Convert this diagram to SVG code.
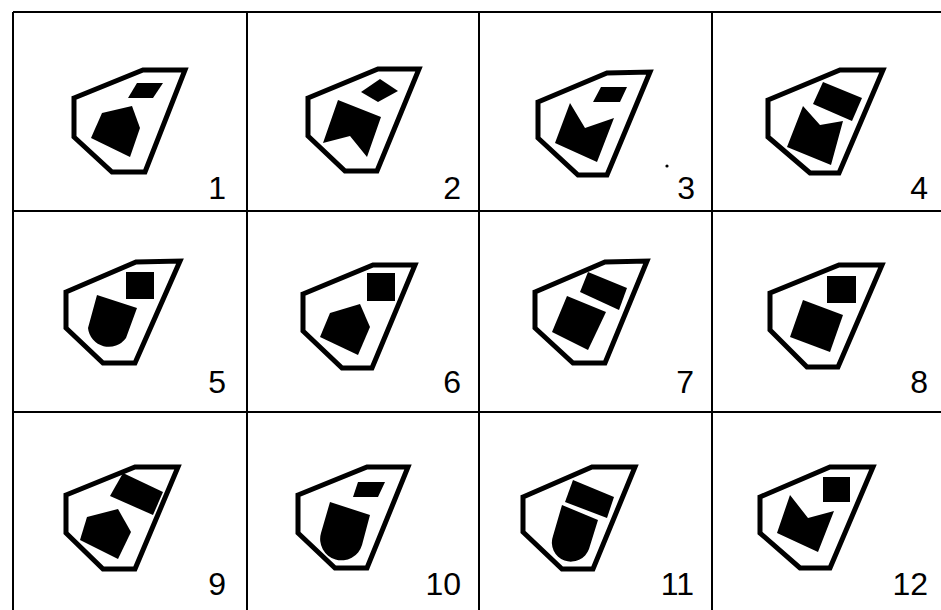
<svg xmlns="http://www.w3.org/2000/svg" width="941" height="610" viewBox="0 0 941 610">
<style>
.frame{stroke:#000;stroke-width:2;fill:none}
.hull{fill:none;stroke:#000;stroke-width:5;stroke-linejoin:miter}
.solid{fill:#000;stroke:none}
.num{font-family:"Liberation Sans",Arial,sans-serif;font-size:32px;text-anchor:end;fill:#000}
</style>
<rect width="941" height="610" fill="#fff"/>
<g id="grid" class="frame">
<line x1="13" y1="12" x2="941" y2="12"/>
<line x1="13" y1="211" x2="941" y2="211"/>
<line x1="13" y1="412" x2="941" y2="412"/>
<line x1="13" y1="12" x2="13" y2="610"/>
<line x1="247" y1="12" x2="247" y2="610"/>
<line x1="479" y1="12" x2="479" y2="610"/>
<line x1="712" y1="12" x2="712" y2="610"/>
</g>
<g id="cell1">
<polygon class="hull" points="74,98 143,70 185,70 145,172 112,172 74,137"/>
<polygon class="solid" points="128,98 137,83 163,83 153,98"/>
<polygon class="solid" points="91,138 102,113 132,106 140,128 130,157"/>
<text class="num" x="226" y="199">1</text>
</g>
<g id="cell2">
<polygon class="hull" points="308,98 378,69 419,69 377,171 345,171 308,136"/>
<polygon class="solid" points="361,92 380,79 398,91 378,102"/>
<polygon class="solid" points="338,100 381,117 367,157 350,136 323,143"/>
<text class="num" x="461" y="199">2</text>
</g>
<g id="cell3">
<polygon class="hull" points="538,102 607,73 650,72 607,175 578,175 538,138"/>
<polygon class="solid" points="593,102 601,87 627,87 620,102"/>
<polygon class="solid" points="570,103 585,128 614,118 597,162 555,143"/>
<circle class="solid" cx="667" cy="166" r="1.6"/>
<text class="num" x="695" y="199">3</text>
</g>
<g id="cell4">
<polygon class="hull" points="768,100 840,70 883,70 839,173 810,173 768,137"/>
<polygon class="solid" points="823,82 862,98 852,121 813,104"/>
<polygon class="solid" points="803,106 820,125 843,121 831,165 787,147"/>
<text class="num" x="928" y="199">4</text>
</g>
<g id="cell5">
<polygon class="hull" points="66,292 136,262 180,261 135,363 103,363 66,328"/>
<rect class="solid" x="126" y="272" width="28" height="27"/>
<path class="solid" d="M97,295 L137,308 L126,338 A21,21 0 0 1 88,328 Z"/>
<text class="num" x="226" y="393">5</text>
</g>
<g id="cell6">
<polygon class="hull" points="303,294 373,265 415,265 372,368 342,368 303,331"/>
<rect class="solid" x="367" y="273" width="28" height="28"/>
<polygon class="solid" points="320,337 330,313 360,304 370,327 358,355"/>
<text class="num" x="461" y="393">6</text>
</g>
<g id="cell7">
<polygon class="hull" points="535,292 605,262 647,261 605,363 573,363 535,328"/>
<polygon class="solid" points="588,272 627,288 619,310 580,292"/>
<polygon class="solid" points="567,296 606,312 588,350 552,332"/>
<text class="num" x="694" y="393">7</text>
</g>
<g id="cell8">
<polygon class="hull" points="770,293 839,265 882,265 838,367 807,367 770,330"/>
<rect class="solid" x="827" y="276" width="29" height="27"/>
<polygon class="solid" points="803,300 843,315 830,352 790,337"/>
<text class="num" x="928" y="393">8</text>
</g>
<g id="cell9">
<polygon class="hull" points="66,495 135,467 178,467 135,569 103,569 66,533"/>
<polygon class="solid" points="123,473 163,492 153,515 110,496"/>
<polygon class="solid" points="80,540 87,517 118,509 131,532 118,559"/>
<text class="num" x="226" y="595">9</text>
</g>
<g id="cell10">
<polygon class="hull" points="298,495 367,467 408,467 367,568 335,568 298,533"/>
<polygon class="solid" points="353,497 358,482 385,482 378,497"/>
<path class="solid" d="M330,502 L370,515 L362,545 A21,21 0 0 1 321,533 Z"/>
<text class="num" x="461" y="595">10</text>
</g>
<g id="cell11">
<polygon class="hull" points="523,497 592,467 635,467 593,569 562,569 523,532"/>
<polygon class="solid" points="573,480 614,497 607,518 565,502"/>
<path class="solid" d="M562,505 L598,520 L589,549 A19,19 0 0 1 553,536 Z"/>
<text class="num" x="694" y="595">11</text>
</g>
<g id="cell12">
<polygon class="hull" points="760,497 830,467 873,467 830,568 800,568 760,533"/>
<rect class="solid" x="823" y="477" width="27" height="25"/>
<polygon class="solid" points="790,495 808,518 834,511 818,552 777,533"/>
<text class="num" x="928" y="595">12</text>
</g>
</svg>
